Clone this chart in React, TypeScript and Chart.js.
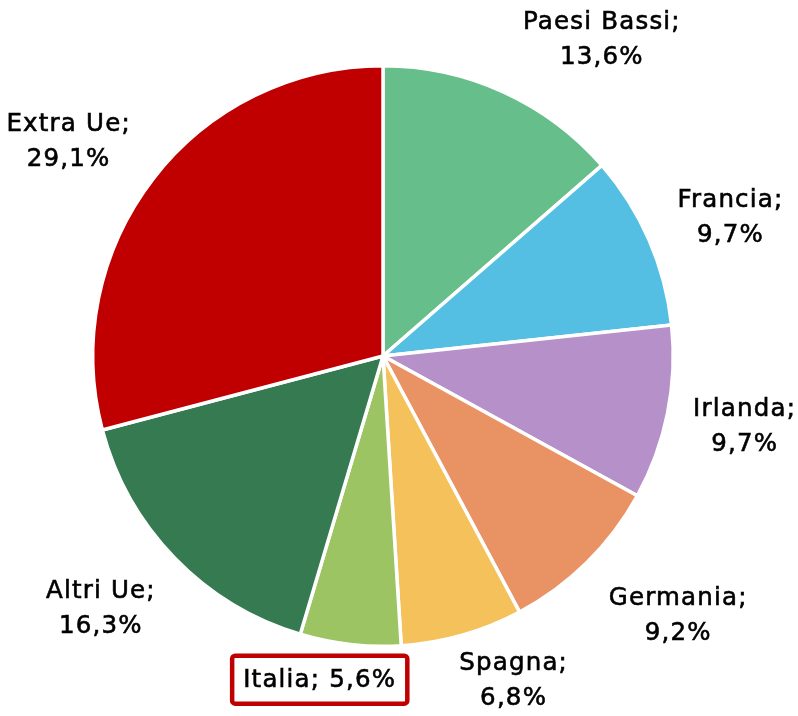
import React, { useEffect, useRef } from "react";
import { Chart, registerables } from "chart.js";

Chart.register(...registerables);

const categories = ["Paesi Bassi", "Francia", "Irlanda", "Germania", "Spagna", "Italia", "Altri Ue", "Extra Ue"];
const shares = [13.6, 9.7, 9.7, 9.2, 6.8, 5.6, 16.3, 29.1];
const colors = ["#66BE8A", "#55BFE3", "#B690C8", "#E99365", "#F4C15A", "#9CC462", "#357A51", "#C00000"];
const highlighted = "Italia";

// label anchor offsets, in units of the pie radius (layout only)
const labelOffsets: [number, number][] = [
  [0.754, -1.09],
  [1.197, -0.478],
  [1.246, 0.242],
  [1.017, 0.896],
  [0.45, 1.118],
  [-0.218, 1.115],
  [-0.972, 0.872],
  [-1.083, -0.737],
];

const fmt = (v: number) => v.toFixed(1).replace(".", ",") + "%";

const labelPlugin = {
  id: "pieLabels",
  afterDraw(chart: any) {
    const ctx = chart.ctx;
    const meta = chart.getDatasetMeta(0);
    ctx.save();
    ctx.font = '24.5px "DejaVu Sans"';
    (ctx as any).letterSpacing = "1.2px";
    ctx.fillStyle = "#000";
    ctx.strokeStyle = "#000";
    ctx.lineWidth = 0.6;
    ctx.textAlign = "center";
    ctx.textBaseline = "middle";
    const draw = (t: string, x: number, y: number) => {
      ctx.fillText(t, x, y);
      ctx.strokeText(t, x, y);
    };
    meta.data.forEach((arc: any, i: number) => {
      const { x, y, outerRadius } = arc.getProps(["x", "y", "outerRadius"], true);
      const r = outerRadius;
      const cx = x + labelOffsets[i][0] * r;
      const cy = y + labelOffsets[i][1] * r;
      const name = categories[i];
      const val = fmt(shares[i]);
      if (name === highlighted) {
        const text = `${name}; ${val}`;
        const w = ctx.measureText(text).width;
        const bw = w + 22;
        const bh = 48;
        ctx.save();
        ctx.strokeStyle = "#C00000";
        ctx.lineWidth = 4.5;
        ctx.beginPath();
        (ctx as any).roundRect(cx - bw / 2, cy - bh / 2, bw, bh, 3);
        ctx.stroke();
        ctx.restore();
        draw(text, cx, cy + 1);
      } else {
        draw(`${name};`, cx, cy - 17);
        draw(val, cx, cy + 18);
      }
    });
    ctx.restore();
  },
};

export default function App() {
  const ref = useRef<HTMLCanvasElement>(null);
  useEffect(() => {
    document.body.style.margin = "0";
    const chart = new Chart(ref.current as HTMLCanvasElement, {
      type: "pie",
      data: {
        labels: categories,
        datasets: [
          {
            data: shares,
            backgroundColor: colors,
            borderColor: "#FFFFFF",
            borderWidth: 3.5,
          },
        ],
      },
      options: {
        animation: false,
        responsive: false,
        layout: { padding: { left: 91, right: 123, top: 64, bottom: 68 } },
        plugins: {
          legend: { display: false },
          tooltip: { enabled: false },
        },
      },
      plugins: [labelPlugin],
    });
    return () => chart.destroy();
  }, []);
  return (
    <div style={{ width: 798, height: 716, background: "#fff" }}>
      <canvas ref={ref} width={798} height={716} style={{ display: "block" }} />
    </div>
  );
}
